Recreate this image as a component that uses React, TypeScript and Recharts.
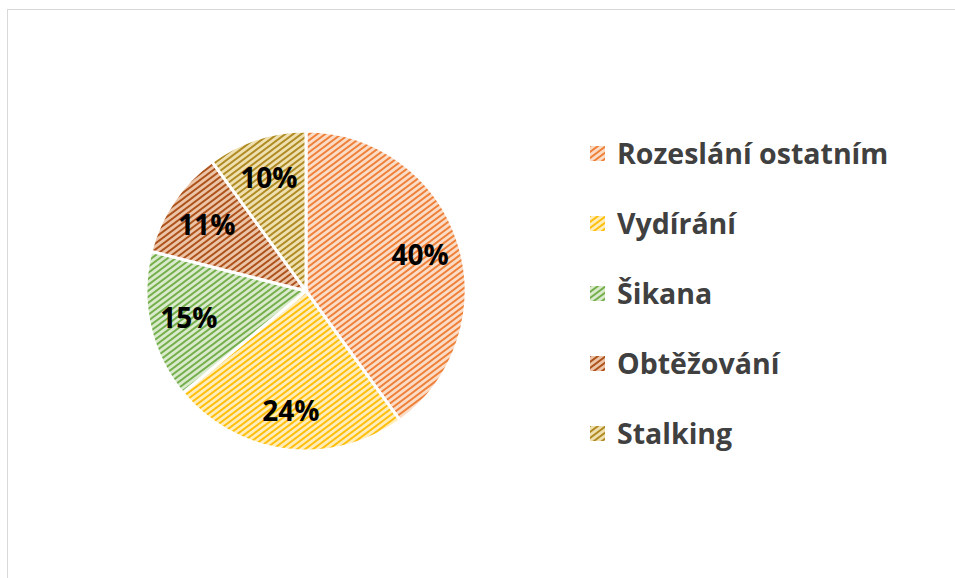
import React from "react";
import { PieChart, Pie, Cell, Legend } from "recharts";

const categories = ["Rozeslání ostatním", "Vydírání", "Šikana", "Obtěžování", "Stalking"];
const shares = [40, 24, 15, 11, 10];

// pattern colours: light background + diagonal stripe
const bgColors = ["#FBDCC7", "#FFEDBC", "#DAEACD", "#ECC4A8", "#EFE0B0"];
const stripeColors = ["#EE8038", "#FFBF0A", "#74AF4B", "#AD521A", "#B08A22"];

const data = categories.map((name, i) => ({ name, value: shares[i] }));

const RADIAN = Math.PI / 180;
const FONT = "'Open Sans', sans-serif";

const renderLabel = (props: any) => {
  const { cx, cy, midAngle, outerRadius, value } = props;
  const r = outerRadius * 0.75;
  const x = cx + r * Math.cos(-midAngle * RADIAN);
  const y = cy + r * Math.sin(-midAngle * RADIAN);
  return (
    <text
      x={x}
      y={y}
      textAnchor="middle"
      dominantBaseline="central"
      fill="#000"
      fontFamily={FONT}
      fontWeight={700}
      fontSize={28}
    >
      {value}%
    </text>
  );
};

const renderLegend = () => (
  <div style={{ paddingTop: 118 }}>
    {categories.map((name, i) => (
      <div
        key={name}
        style={{ height: 70, display: "flex", alignItems: "center" }}
      >
        <svg width={15} height={15} style={{ marginRight: 12 }}>
          <rect width={15} height={15} fill={`url(#pat${i})`} />
        </svg>
        <span
          style={{
            fontFamily: FONT,
            fontWeight: 700,
            fontSize: 28.5,
            color: "#404040",
            whiteSpace: "nowrap",
          }}
        >
          {name}
        </span>
      </div>
    ))}
  </div>
);

export default function App() {
  return (
    <div
      style={{
        position: "absolute",
        left: 0,
        top: 0,
        width: 955,
        height: 578,
        overflow: "hidden",
        background: "#fff",
      }}
    >
      <div
        style={{
          position: "absolute",
          left: 7,
          top: 9,
          width: 1000,
          height: 1000,
          border: "1.5px solid #D9D9D9",
        }}
      />
      <PieChart
        width={955}
        height={578}
        margin={{ top: 0, right: 0, bottom: 0, left: 0 }}
        style={{ position: "absolute", left: 0, top: 0 }}
      >
        <defs>
          {bgColors.map((bg, i) => (
            <pattern
              key={i}
              id={`pat${i}`}
              patternUnits="userSpaceOnUse"
              width={8}
              height={6}
            >
              <rect width={8} height={6} fill={bg} />
              <path
                d="M-2,7.5 L10,-1.5 M-10,7.5 L2,-1.5 M6,7.5 L18,-1.5"
                stroke={stripeColors[i]}
                strokeWidth={1.9}
              />
            </pattern>
          ))}
        </defs>
        <Pie
          data={data}
          dataKey="value"
          nameKey="name"
          cx={306}
          cy={291}
          outerRadius={160}
          startAngle={90}
          endAngle={-270}
          stroke="#fff"
          strokeWidth={3}
          label={renderLabel}
          labelLine={false}
          isAnimationActive={false}
        >
          {data.map((d, i) => (
            <Cell key={d.name} fill={`url(#pat${i})`} />
          ))}
        </Pie>
        <Legend
          content={renderLegend}
          wrapperStyle={{ position: "absolute", left: 590, top: 0, width: 360 }}
        />
      </PieChart>
    </div>
  );
}
